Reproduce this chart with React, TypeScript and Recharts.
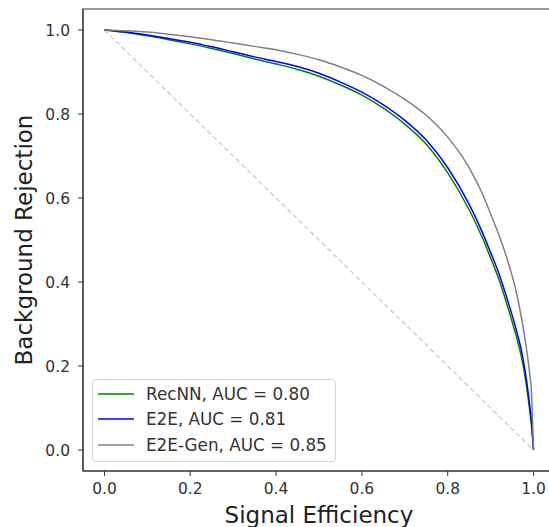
import {
  Line,
  LineChart,
  ReferenceArea,
  XAxis,
  YAxis,
} from "recharts";

// signal efficiency (x) / background rejection (y)
const recnnX = [0, 0.05, 0.1, 0.15, 0.2, 0.25, 0.3, 0.35, 0.4, 0.45, 0.5, 0.55, 0.6, 0.65, 0.7, 0.75, 0.8, 0.85, 0.88, 0.9, 0.92, 0.94, 0.96, 0.97, 0.98, 0.99, 0.995, 1.0];
const recnnY = [1.0, 0.994, 0.986, 0.977, 0.967, 0.956, 0.944, 0.931, 0.919, 0.906, 0.89, 0.869, 0.845, 0.814, 0.776, 0.728, 0.66, 0.572, 0.507, 0.457, 0.404, 0.34, 0.27, 0.23, 0.176, 0.103, 0.06, 0.0];

const e2eX = [0, 0.05, 0.1, 0.15, 0.2, 0.25, 0.3, 0.35, 0.4, 0.45, 0.5, 0.55, 0.6, 0.65, 0.7, 0.75, 0.8, 0.85, 0.88, 0.9, 0.92, 0.94, 0.96, 0.97, 0.98, 0.99, 0.995, 1.0];
const e2eY = [1.0, 0.995, 0.988, 0.98, 0.971, 0.96, 0.948, 0.936, 0.925, 0.913, 0.897, 0.876, 0.852, 0.822, 0.785, 0.738, 0.672, 0.585, 0.52, 0.47, 0.418, 0.355, 0.285, 0.245, 0.19, 0.115, 0.07, 0.0];

const genX = [0, 0.05, 0.1, 0.15, 0.2, 0.25, 0.3, 0.35, 0.4, 0.45, 0.5, 0.55, 0.6, 0.65, 0.7, 0.75, 0.8, 0.85, 0.88, 0.9, 0.92, 0.94, 0.96, 0.97, 0.98, 0.99, 0.995, 1.0];
const genY = [1.0, 0.998, 0.995, 0.99, 0.984, 0.977, 0.969, 0.961, 0.953, 0.942, 0.929, 0.912, 0.892, 0.866, 0.835, 0.797, 0.745, 0.672, 0.612, 0.562, 0.51, 0.45, 0.375, 0.325, 0.265, 0.19, 0.14, 0.0];

const chanceX = [0, 1];
const chanceY = [1, 0];

const ticks = [0, 0.2, 0.4, 0.6, 0.8, 1.0];

const seriesNames = ["RecNN, AUC = 0.80", "E2E, AUC = 0.81", "E2E-Gen, AUC = 0.85"];
const seriesColors = ["#008000", "#0000ff", "#808080"];

const toPoints = (xs: number[], ys: number[]) =>
  xs.map((x, i) => ({ x, y: ys[i] }));

const font = "'DejaVu Sans', sans-serif";

function LegendBox() {
  return (
    <div
      style={{
        position: "absolute",
        left: 92,
        top: 379,
        border: "1px solid #d4d4d4",
        borderRadius: 4,
        background: "rgba(255,255,255,0.8)",
        padding: "1px 8px 3px 5px",
        fontFamily: font,
        fontSize: 16.8,
        color: "#333",
      }}
    >
      {seriesNames.map((name, i) => (
        <div
          key={name}
          style={{ display: "flex", alignItems: "center", height: 25.5 }}
        >
          <svg width={36} height={4} style={{ marginRight: 12 }}>
            <line x1={0} y1={2} x2={36} y2={2} stroke={seriesColors[i]} strokeWidth={1.5} />
          </svg>
          <span style={{ whiteSpace: "nowrap" }}>{name}</span>
        </div>
      ))}
    </div>
  );
}

export default function App() {
  const tickStyle = { fill: "#333", fontSize: 15.5, fontFamily: font };
  return (
    <div
      style={{
        position: "absolute",
        left: 0,
        top: 0,
        width: 549,
        height: 527,
        overflow: "hidden",
        background: "#fff",
      }}
    >
      <LineChart
        width={570}
        height={527}
        margin={{ top: 9, right: 15, bottom: 0, left: 0 }}
      >
        <XAxis
          type="number"
          dataKey="x"
          domain={[-0.05, 1.05]}
          ticks={ticks}
          tickFormatter={(v: number) => v.toFixed(1)}
          tick={tickStyle}
          tickSize={5}
          tickMargin={7}
          height={56}
          axisLine={{ stroke: "#333" }}
          tickLine={{ stroke: "#333" }}
          label={{
            value: "Signal Efficiency",
            position: "insideBottom",
            offset: 4,
            style: { fill: "#222", fontSize: 23, fontFamily: font },
          }}
        />
        <YAxis
          type="number"
          dataKey="y"
          domain={[-0.05, 1.05]}
          ticks={ticks}
          tickFormatter={(v: number) => v.toFixed(1)}
          tick={tickStyle}
          tickSize={5}
          tickMargin={8}
          width={83}
          axisLine={{ stroke: "#333" }}
          tickLine={{ stroke: "#333" }}
          label={{
            value: "Background Rejection",
            angle: -90,
            position: "insideLeft",
            offset: 24,
            style: {
              textAnchor: "middle",
              fill: "#222",
              fontSize: 23,
              fontFamily: font,
            },
          }}
        />
        <ReferenceArea
          x1={-0.05}
          x2={1.05}
          y1={-0.05}
          y2={1.05}
          fill="none"
          stroke="#333"
          strokeWidth={1.2}
        />
        <Line
          data={toPoints(chanceX, chanceY)}
          dataKey="y"
          stroke="#c8c8c8"
          strokeWidth={1.2}
          strokeDasharray="5 3"
          dot={false}
          isAnimationActive={false}
        />
        <Line
          data={toPoints(recnnX, recnnY)}
          dataKey="y"
          name={seriesNames[0]}
          type="monotone"
          stroke={seriesColors[0]}
          strokeWidth={1.5}
          dot={false}
          isAnimationActive={false}
        />
        <Line
          data={toPoints(e2eX, e2eY)}
          dataKey="y"
          name={seriesNames[1]}
          type="monotone"
          stroke={seriesColors[1]}
          strokeWidth={1.5}
          dot={false}
          isAnimationActive={false}
        />
        <Line
          data={toPoints(genX, genY)}
          dataKey="y"
          name={seriesNames[2]}
          type="monotone"
          stroke={seriesColors[2]}
          strokeWidth={1.5}
          dot={false}
          isAnimationActive={false}
        />
      </LineChart>
      <LegendBox />
    </div>
  );
}
